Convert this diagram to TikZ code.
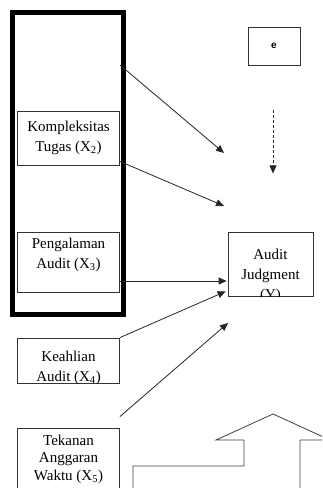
\documentclass[tikz,border=0pt]{standalone}
\usepackage{fontspec}
\setmainfont{Liberation Serif}
\newfontfamily\efont{Liberation Sans}
\usetikzlibrary{calc,arrows.meta}

\begin{document}
\begin{tikzpicture}[x=1pt,y=-1pt,
  frame/.style={draw=black!80,line width=.8pt,inner sep=0pt},
  lbl/.style={align=center,inner sep=0pt,font=\fontsize{15}{20}\selectfont},
  arr/.style={draw=black!85,line width=.8pt,-{Triangle[length=8pt,width=7pt]}}]
  \clip (0,0) rectangle (322,488);
  \fill[white] (0,0) rectangle (322,488);
  % grouped box and variables
  \node[draw,line width=5pt,minimum width=111pt,minimum height=302pt,inner sep=0pt] (grp) at (68,163.5) {};
  \node[frame,lbl,minimum width=102pt,minimum height=54pt] (kt) at (68.5,138) {Kompleksitas\\Tugas (X\textsubscript{2})};
  \node[frame,minimum width=102pt,minimum height=60pt] (pa) at (68.5,262) {};
  \node[lbl] (pa-t) at (68.5,254.5) {Pengalaman\\Audit (X\textsubscript{3})};
  \node[frame,minimum width=102pt,minimum height=45pt] (ka) at (68.5,360.5) {};
  \begin{scope}
    \clip (ka.south west) rectangle (ka.north east);
    \node[lbl] (ka-t) at (68.5,367.5) {Keahlian\\Audit (X\textsubscript{4})};
  \end{scope}
  \node[frame,minimum width=102pt,minimum height=72pt] (ta) at (68.5,464) {};
  \node[lbl,font=\fontsize{15}{17.5}\selectfont] (ta-t) at (68.5,459) {Tekanan\\Anggaran\\Waktu (X\textsubscript{5})};
  % dependent variable and error
  \node[frame,minimum width=85pt,minimum height=64pt] (aj) at (270.5,264) {};
  \begin{scope}
    \clip (aj.south west) rectangle (aj.north east);
    \node[lbl] (aj-t) at (270.5,276) {Audit\\Judgment\\(Y)};
  \end{scope}
  \node[frame,minimum width=52pt,minimum height=38pt,font=\efont\bfseries\fontsize{10}{12}\selectfont] (e) at (274,46) {e};
  \coordinate (t1) at (224,153); \coordinate (t2) at (224,206); \coordinate (t5) at (228,323);
  \draw[arr,dash pattern=on 3pt off 2pt] ($(e.south)+(-1,45)$) -- ($(e.south)+(-1,108)$);
  \draw[arr] ($(grp.north east)+(-6,55)$) -- (t1);
  \draw[arr] ($(kt.south east)+(0,-4)$) -- (t2);
  \draw[arr] ($(pa.east)+(0,19)$) -- ($(aj.west)+(-1,17)$);
  \draw[arr] (ka.north east) -- ($(aj.south west)+(-2,-5)$);
  \draw[arr] ($(ta.north east)+(0,-11)$) -- (t5);
  % big hollow arrow
  \draw[draw=black!75,line width=.8pt] (133,495) -- (133,466) -- (244,466) -- (244,440) -- (216,440)
    -- (273,414) -- (330,440) -- (300,440) -- (300,495);
\end{tikzpicture}
\end{document}
